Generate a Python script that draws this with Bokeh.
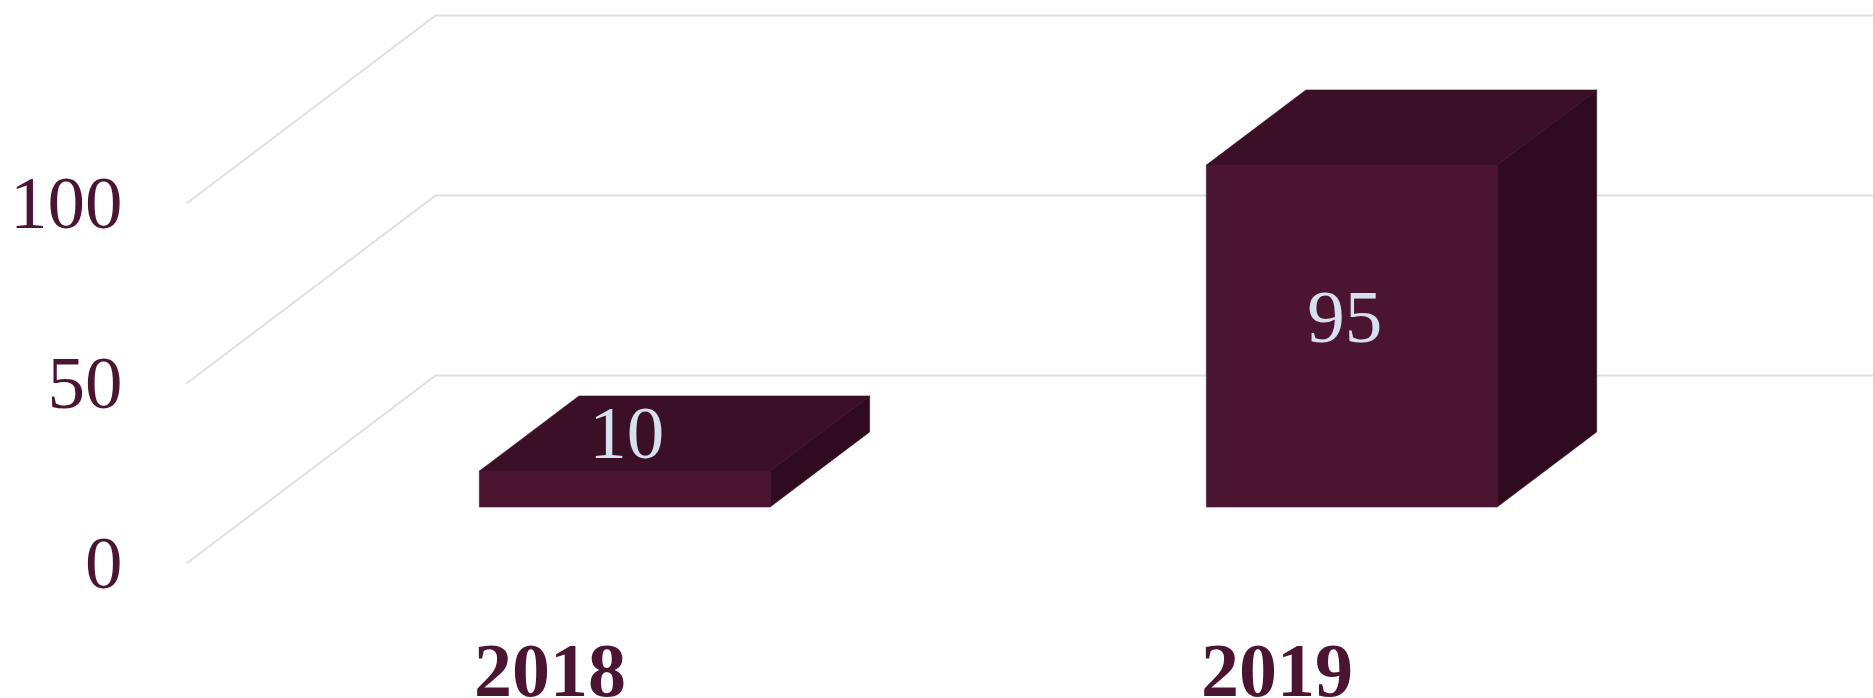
from bokeh.plotting import figure, ColumnDataSource
from bokeh.models import FixedTicker, Range1d
from bokeh.core.properties import value
from bokeh.embed import file_html
from bokeh.resources import INLINE

categories = ["2018", "2019"]
values = [10, 95]
y_ticks = [0, 50, 100]

W, H = 1873, 698
LEFT = 130
PX_BAND, PX_UNIT = 727.0, 3.6
X0_PX, Y0_PX = 186.0, 563.0
LABEL_TOP_PX = 639.0

DEPTH_X = 249.0 / PX_BAND
DEPTH_Y = 188.0 / PX_UNIT
NEAR, FAR = 0.3, 0.7
BAR_W = 0.4

x_start = (LEFT - X0_PX) / PX_BAND
x_end = (W - X0_PX) / PX_BAND
y_start = (Y0_PX - H) / PX_UNIT
y_end = Y0_PX / PX_UNIT

p = figure(width=W, height=H, output_backend="svg", toolbar_location=None,
           x_range=Range1d(x_start, x_end), y_range=Range1d(y_start, y_end),
           min_border_left=LEFT, min_border_bottom=0, min_border_top=0, min_border_right=0,
           background_fill_color="white", border_fill_color="white")
p.outline_line_color = None
p.grid.visible = False

TEXT = "#4b1532"
FONT = "Liberation Serif"
for ax in (p.xaxis[0], p.yaxis[0]):
    ax.axis_line_color = None
    ax.major_tick_line_color = None
    ax.minor_tick_line_color = None
    ax.major_label_text_color = TEXT
    ax.major_label_text_font = FONT

centers = [i + 0.5 for i in range(len(categories))]
p.xaxis[0].ticker = FixedTicker(ticks=centers)
p.xaxis[0].major_label_overrides = {c: n for c, n in zip(centers, categories)}
p.xaxis[0].major_label_text_font_size = "76px"
p.xaxis[0].major_label_text_font_style = "bold"
p.xaxis[0].major_label_standoff = 0
p.xaxis[0].fixed_location = (Y0_PX - LABEL_TOP_PX) / PX_UNIT

p.yaxis[0].ticker = FixedTicker(ticks=y_ticks)
p.yaxis[0].major_label_text_font_size = "75px"
p.yaxis[0].major_label_standoff = 2

# receding gridlines
gx = [[0, DEPTH_X, x_end] for _ in y_ticks]
gy = [[t, t + DEPTH_Y, t + DEPTH_Y] for t in y_ticks]
p.multi_line(gx, gy, line_color="#e0e0e0", line_width=2, line_join="round")


def pt(x, v, d):
    return x + d * DEPTH_X, v + d * DEPTH_Y


for c, v in zip(centers, values):
    l, r = c - BAR_W / 2, c + BAR_W / 2
    faces = [
        ("#3b1027", [(l, v, NEAR), (r, v, NEAR), (r, v, FAR), (l, v, FAR)]),
        ("#300b1f", [(r, 0, NEAR), (r, v, NEAR), (r, v, FAR), (r, 0, FAR)]),
        ("#4b1532", [(l, 0, NEAR), (r, 0, NEAR), (r, v, NEAR), (l, v, NEAR)]),
    ]
    for col, corners in faces:
        xy = [pt(*k) for k in corners]
        p.patch([a for a, _ in xy], [b for _, b in xy], fill_color=col, line_color=col, line_width=0.5)

# value labels, positioned from the bar's front face
lx = [pt(c, v / 2, NEAR)[0] for c, v in zip(centers, values)]
ly = [pt(c, v / 2, NEAR)[1] for c, v in zip(centers, values)]
src = ColumnDataSource(dict(x=lx, y=ly, t=[str(v) for v in values], dx=[2, -7], dy=[-56, -19]))
p.text("x", "y", text="t", source=src, x_offset="dx", y_offset="dy", text_color="#d6e0ee",
       text_font=value(FONT), text_font_size="75px", text_align="center", text_baseline="middle")

html = file_html(p, INLINE).replace("<head>", "<head><style>html,body{margin:0;padding:0;overflow:hidden}</style>", 1)
open("out.html", "w").write(html)
